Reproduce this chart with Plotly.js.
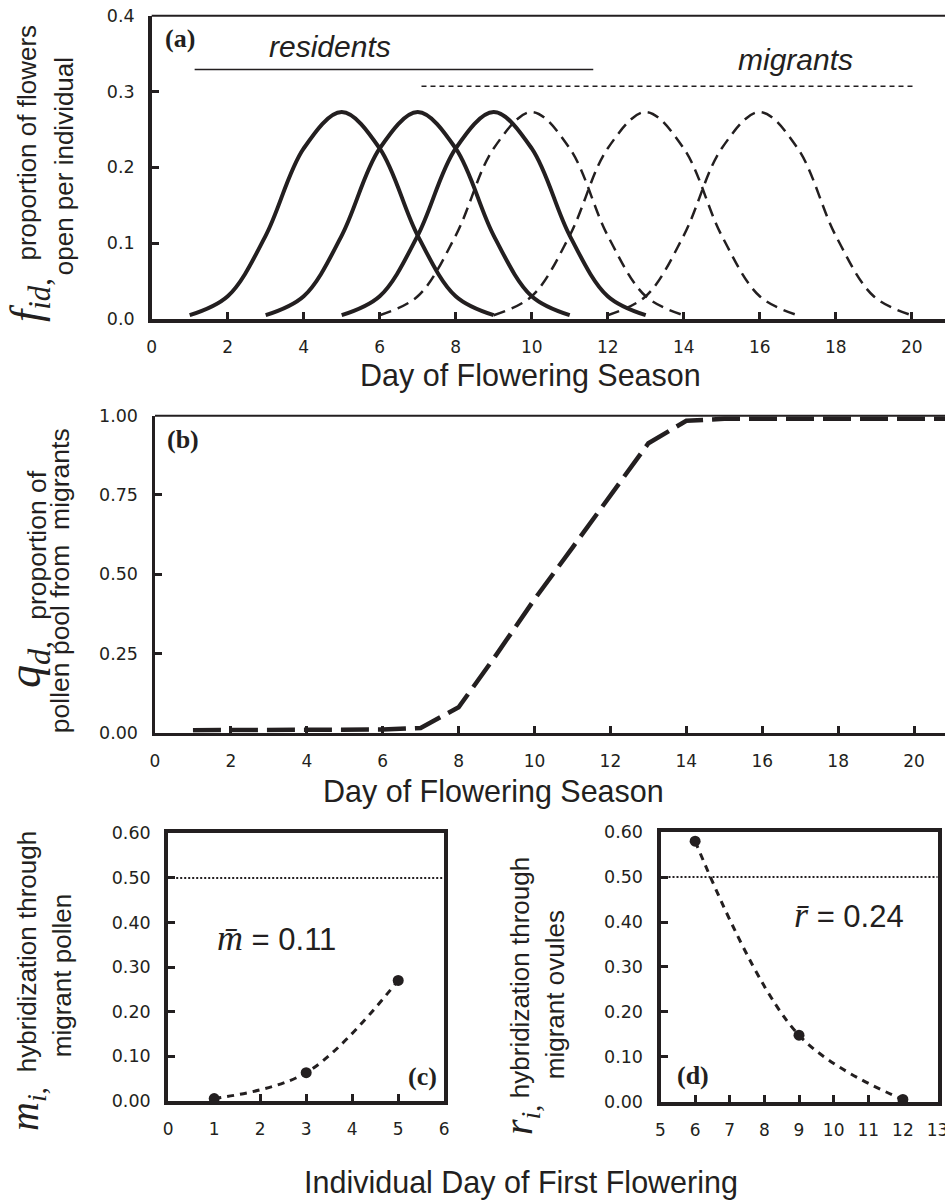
<!DOCTYPE html>
<html>
<head>
<meta charset="utf-8">
<script src="https://cdn.plot.ly/plotly-3.0.1.min.js"></script>
<style>
  html, body { margin: 0; padding: 0; overflow: hidden; background: #fff; }
  #chart { width: 960px; height: 1202px; }
</style>
</head>
<body>
<div id="chart"></div>
<script>
// ---------- data ----------
// Panel (a): proportion of flowers open per individual, by day
const flowerProfile = [0.005, 0.03, 0.11, 0.225, 0.273, 0.225, 0.11, 0.03, 0.005];
const resident1Days = [1, 2, 3, 4, 5, 6, 7, 8, 9];
const resident2Days = [3, 4, 5, 6, 7, 8, 9, 10, 11];
const resident3Days = [5, 6, 7, 8, 9, 10, 11, 12, 13];
const migrant1Days  = [6, 7, 8, 9, 10, 11, 12, 13, 14];
const migrant2Days  = [9, 10, 11, 12, 13, 14, 15, 16, 17];
const migrant3Days  = [12, 13, 14, 15, 16, 17, 18, 19, 20];
const residentSpan = [1.13, 11.62];
const residentLevel = [0.329, 0.329];
const migrantSpan = [7.1, 20.05];
const migrantLevel = [0.307, 0.307];

// Panel (b): proportion of pollen pool from migrants
const pollenDays = [1, 2, 3, 4, 5, 6, 7, 8, 9, 10, 11, 12, 13, 14, 15, 16, 17, 18, 19, 20, 21];
const pollenQ    = [0.008, 0.008, 0.008, 0.008, 0.008, 0.01, 0.015, 0.08, 0.247, 0.421, 0.584,
                    0.747, 0.913, 0.984, 0.99, 0.99, 0.99, 0.99, 0.99, 0.99, 0.99];

// Panel (c): hybridization through migrant pollen
const mDays = [1, 3, 5];
const mVals = [0.005, 0.063, 0.27];
const mMean = '0.11';

// Panel (d): hybridization through migrant ovules
const rDays = [6, 9, 12];
const rVals = [0.58, 0.148, 0.005];
const rMean = '0.24';

const threshold = 0.5;

// tick labels
const ticksA_x = [0, 2, 4, 6, 8, 10, 12, 14, 16, 18, 20];
const ticksA_y = [0, 0.1, 0.2, 0.3, 0.4];
const ticksB_y = [0, 0.25, 0.5, 0.75, 1];
const ticksC_x = [0, 1, 2, 3, 4, 5, 6];
const ticksD_x = [5, 6, 7, 8, 9, 10, 11, 12, 13];
const ticksCD_y = [0, 0.1, 0.2, 0.3, 0.4, 0.5, 0.6];

// ---------- helpers ----------
const W = 960, H = 1202;
const ink = '#231f20';
const SANS = 'Liberation Sans, Arial, sans-serif';
const SERIF = 'Liberation Serif, Times New Roman, serif';
const TICKF = 'DejaVu Sans, Verdana, sans-serif';
const px = x => x / W;
const py = y => 1 - y / H;

function xAxis(domain, range, vals, lw, extra) {
  return Object.assign({
    domain: domain, range: range, tickvals: vals, showgrid: false, zeroline: false,
    showline: true, linecolor: ink, linewidth: lw, ticks: 'inside', ticklen: 7,
    tickwidth: 3, tickcolor: ink, tickfont: {family: TICKF, size: 17, color: ink},
    ticklabelstandoff: 10, fixedrange: true
  }, extra || {});
}
function yAxis(domain, range, vals, fmt, lw, extra) {
  return Object.assign({
    domain: domain, range: range, tickvals: vals, tickformat: fmt, showgrid: false,
    zeroline: false, showline: true, linecolor: ink, linewidth: lw, ticks: 'inside',
    ticklen: 7, tickwidth: 3, tickcolor: ink,
    tickfont: {family: TICKF, size: 17.5, color: ink}, ticklabelstandoff: 10, fixedrange: true
  }, extra || {});
}

function curve(days, vals, dashed, xa, ya) {
  return {
    x: days, y: vals, xaxis: xa, yaxis: ya, mode: 'lines', cliponaxis: false,
    hoverinfo: 'skip',
    line: {color: ink, width: dashed ? 2.5 : 4, shape: 'spline', smoothing: 1,
           dash: dashed ? '12px,7px' : 'solid'}
  };
}

const traces = [
  curve(resident1Days, flowerProfile, false, 'x', 'y'),
  curve(resident2Days, flowerProfile, false, 'x', 'y'),
  curve(resident3Days, flowerProfile, false, 'x', 'y'),
  curve(migrant1Days, flowerProfile, true, 'x', 'y'),
  curve(migrant2Days, flowerProfile, true, 'x', 'y'),
  curve(migrant3Days, flowerProfile, true, 'x', 'y'),
  {x: residentSpan, y: residentLevel, xaxis: 'x', yaxis: 'y', mode: 'lines',
   line: {color: ink, width: 1.5}},
  {x: migrantSpan, y: migrantLevel, xaxis: 'x', yaxis: 'y', mode: 'lines',
   line: {color: ink, width: 1.5, dash: '5px,4px'}},
  {x: pollenDays, y: pollenQ, xaxis: 'x2', yaxis: 'y2', mode: 'lines', cliponaxis: false,
   line: {color: ink, width: 4.5, dash: '28px,9px'}},
  {x: mDays, y: mVals, xaxis: 'x3', yaxis: 'y3', mode: 'lines+markers', cliponaxis: false,
   line: {color: ink, width: 3, dash: '7px,6px', shape: 'spline'},
   marker: {color: ink, size: 11}},
  {x: rDays, y: rVals, xaxis: 'x4', yaxis: 'y4', mode: 'lines+markers', cliponaxis: false,
   line: {color: ink, width: 3, dash: '7px,6px', shape: 'spline'},
   marker: {color: ink, size: 11}}
];

function ann(text, x, y, size, family, extra) {
  return Object.assign({
    text: text, x: px(x), y: py(y), xref: 'paper', yref: 'paper', showarrow: false,
    xanchor: 'center', yanchor: 'middle', font: {family: family, size: size, color: ink}
  }, extra || {});
}
const rot = {textangle: -90};

const annotations = [
  // panel labels
  ann('<b>(a)</b>', 180, 39, 26, SERIF),
  ann('<b>(b)</b>', 182.5, 439, 26, SERIF),
  ann('<b>(c)</b>', 422, 1076, 26, SERIF),
  ann('<b>(d)</b>', 692.5, 1075, 26, SERIF),
  // group labels in (a)
  ann('<i>residents</i>', 329.5, 46.5, 30, SANS),
  ann('<i>migrants</i>', 795, 59.6, 30, SANS),
  // x-axis titles
  ann('Day of Flowering Season', 530, 376, 30.5, SANS),
  ann('Day of Flowering Season', 493.5, 791, 30.5, SANS),
  ann('Individual Day of First Flowering', 521, 1182.3, 30.5, SANS),
  // y-axis titles (a)
  ann('<i>f</i><sub><i>id</i>,</sub>', 29, 300, 44, SERIF, rot),
  ann('proportion of flowers', 26, 142.5, 26, SANS, rot),
  ann('open per individual', 64.2, 166, 26, SANS, rot),
  // (b)
  ann('<i>q</i><sub><i>d</i>,</sub>', 28, 665, 46, SERIF, rot),
  ann('proportion of', 36.7, 545, 26.5, SANS, rot),
  ann('pollen pool from&nbsp; migrants', 60.2, 581, 26.5, SANS, rot),
  // (c)
  ann('<i>m</i><sub><i>i</i>,</sub>', 27, 1109, 40, SERIF, rot),
  ann('hybridization through', 26.7, 951.5, 26, SANS, rot),
  ann('migrant pollen', 62.7, 975.5, 26, SANS, rot),
  // (d)
  ann('<i>r</i><sub><i>i</i>,</sub>', 521, 1120, 40, SERIF, rot),
  ann('hybridization through', 519.7, 977.5, 26, SANS, rot),
  ann('migrant ovules', 555.2, 995, 26, SANS, rot),
  // means
  ann('<span style="font-family:Liberation Serif;font-size:36px"><i>m\u0304</i></span> = ' + mMean, 276.7, 938, 31, SANS),
  ann('<span style="font-family:Liberation Serif;font-size:36px"><i>r\u0304</i></span> = ' + rMean, 849, 915, 31, SANS)
];

const shapes = [
  {type: 'line', xref: 'x domain', yref: 'y domain', x0: 0, x1: 1, y0: 1, y1: 1,
   line: {color: ink, width: 2}},
  {type: 'line', xref: 'x2 domain', yref: 'y2 domain', x0: 0, x1: 1, y0: 1, y1: 1,
   line: {color: ink, width: 2}},
  {type: 'line', xref: 'x3 domain', yref: 'y3', x0: 0, x1: 1, y0: threshold, y1: threshold,
   line: {color: ink, width: 2, dash: '2px,2px'}},
  {type: 'line', xref: 'x4 domain', yref: 'y4', x0: 0, x1: 1, y0: threshold, y1: threshold,
   line: {color: ink, width: 2, dash: '2px,2px'}}
];

const layout = {
  width: W, height: H, margin: {l: 0, r: 0, t: 0, b: 0},
  paper_bgcolor: '#ffffff', plot_bgcolor: '#ffffff', showlegend: false,
  xaxis:  xAxis([px(151.7), px(949.7)], [0, 21], ticksA_x, 3.5, {anchor: 'y'}),
  yaxis:  yAxis([py(319), py(15.7)], [0, 0.4], ticksA_y, '.1f', 3.5, {anchor: 'x'}),
  xaxis2: xAxis([px(155), px(952)], [0, 21], ticksA_x, 3.5, {anchor: 'y2'}),
  yaxis2: yAxis([py(732.7), py(415.7)], [0, 1], ticksB_y, '.2f', 3.5, {anchor: 'x2'}),
  xaxis3: xAxis([px(168.2), px(444.2)], [0, 6], ticksC_x, 4, {anchor: 'y3', mirror: true}),
  yaxis3: yAxis([py(1100.8), py(833.3)], [0, 0.6], ticksCD_y, '.2f', 4, {anchor: 'x3', mirror: true}),
  xaxis4: xAxis([px(660.5), px(937.5)], [5, 13], ticksD_x, 4, {anchor: 'y4', mirror: true}),
  yaxis4: yAxis([py(1101.7), py(832.2)], [0, 0.6], ticksCD_y, '.2f', 4, {anchor: 'x4', mirror: true}),
  annotations: annotations,
  shapes: shapes
};

Plotly.newPlot('chart', traces, layout, {staticPlot: true, displayModeBar: false});
</script>
</body>
</html>
